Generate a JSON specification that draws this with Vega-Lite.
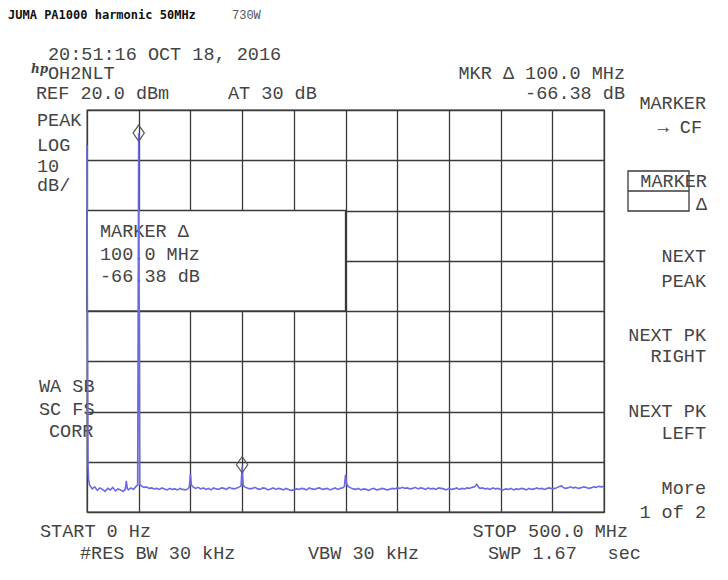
{
"$schema": "https://vega.github.io/schema/vega-lite/v6.json",
"width": 517,
"height": 402,
"autosize": {"type": "none"},
"padding": {"left": 87, "top": 110, "right": 124, "bottom": 68},
"background": "white",
"config": {"view": {"stroke": "#3a3a3a", "strokeWidth": 1.3}},
"datasets": {
"trace": [
{"f":0,"lvl":13.0},{"f":0.5,"lvl":-30},{"f":1,"lvl":-50.5},{"f":1.5,"lvl":-53.5},{"f":2.5,"lvl":-54.6},{"f":5,"lvl":-55.4},{"f":7.5,"lvl":-55.0},{"f":10,"lvl":-55.7},{"f":12.5,"lvl":-55.2},{"f":15,"lvl":-55.5},{"f":17.5,"lvl":-55.9},{"f":20,"lvl":-55.3},{"f":22.5,"lvl":-55.6},{"f":25,"lvl":-55.1},{"f":27.5,"lvl":-55.8},{"f":30,"lvl":-55.4},{"f":32.5,"lvl":-55.6},{"f":35,"lvl":-55.9},{"f":37,"lvl":-55.5},{"f":38,"lvl":-53.8},{"f":39,"lvl":-55.3},{"f":40,"lvl":-55.6},{"f":42.5,"lvl":-55.2},{"f":45,"lvl":-55.5},{"f":47.5,"lvl":-54.9},{"f":49,"lvl":-54.6},{"f":50,"lvl":15.4},{"f":51,"lvl":-54.4},{"f":52.5,"lvl":-54.8},{"f":55,"lvl":-55.1},{"f":57.5,"lvl":-55.0},{"f":60,"lvl":-55.3},{"f":62.5,"lvl":-55.2},{"f":65,"lvl":-55.4},{"f":67.5,"lvl":-55.3},{"f":70,"lvl":-55.5},{"f":72.5,"lvl":-55.2},{"f":75,"lvl":-55.4},{"f":77.5,"lvl":-55.6},{"f":80,"lvl":-55.3},{"f":82.5,"lvl":-55.5},{"f":85,"lvl":-55.4},{"f":87.5,"lvl":-55.6},{"f":90,"lvl":-55.3},{"f":92.5,"lvl":-55.5},{"f":95,"lvl":-55.6},{"f":97.5,"lvl":-55.4},{"f":99,"lvl":-55.0},{"f":100,"lvl":-52.5},{"f":101,"lvl":-54.6},{"f":102.5,"lvl":-55.0},{"f":105,"lvl":-55.3},{"f":107.5,"lvl":-55.1},{"f":110,"lvl":-55.4},{"f":112.5,"lvl":-55.2},{"f":115,"lvl":-55.5},{"f":117.5,"lvl":-55.3},{"f":120,"lvl":-55.6},{"f":122.5,"lvl":-55.2},{"f":125,"lvl":-55.4},{"f":127.5,"lvl":-55.5},{"f":130,"lvl":-55.2},{"f":132.5,"lvl":-55.3},{"f":135,"lvl":-55.5},{"f":137.5,"lvl":-55.1},{"f":140,"lvl":-55.3},{"f":142.5,"lvl":-55.4},{"f":145,"lvl":-55.2},{"f":147.5,"lvl":-55.0},{"f":149,"lvl":-54.8},{"f":150,"lvl":-51.0},{"f":151,"lvl":-54.7},{"f":152.5,"lvl":-55.0},
{"f":155,"lvl":-55.2},{"f":157.5,"lvl":-55.4},{"f":160,"lvl":-55.3},{"f":162.5,"lvl":-55.1},{"f":165,"lvl":-55.4},{"f":167.5,"lvl":-55.5},{"f":170,"lvl":-55.2},{"f":172.5,"lvl":-55.3},{"f":175,"lvl":-55.6},{"f":177.5,"lvl":-55.4},{"f":180,"lvl":-55.2},{"f":182.5,"lvl":-55.5},{"f":185,"lvl":-55.3},{"f":187.5,"lvl":-55.4},{"f":190,"lvl":-55.6},{"f":192.5,"lvl":-55.3},{"f":195,"lvl":-55.5},{"f":197.5,"lvl":-55.7},{"f":200,"lvl":-55.6},{"f":202.5,"lvl":-55.4},{"f":205,"lvl":-55.5},{"f":207.5,"lvl":-55.3},{"f":210,"lvl":-55.4},{"f":212.5,"lvl":-55.6},{"f":215,"lvl":-55.2},{"f":217.5,"lvl":-55.4},{"f":220,"lvl":-55.5},{"f":222.5,"lvl":-55.3},{"f":225,"lvl":-55.2},{"f":227.5,"lvl":-55.5},{"f":230,"lvl":-55.4},{"f":232.5,"lvl":-55.3},{"f":235,"lvl":-55.6},{"f":237.5,"lvl":-55.4},{"f":240,"lvl":-55.2},{"f":242.5,"lvl":-55.5},{"f":245,"lvl":-55.3},{"f":247.5,"lvl":-55.2},{"f":249,"lvl":-54.9},{"f":250,"lvl":-52.6},{"f":251,"lvl":-54.3},{"f":252.5,"lvl":-54.9},
{"f":255,"lvl":-55.2},{"f":257.5,"lvl":-55.4},{"f":260,"lvl":-55.5},{"f":262.5,"lvl":-55.3},{"f":265,"lvl":-55.6},{"f":267.5,"lvl":-55.4},{"f":270,"lvl":-55.5},{"f":272.5,"lvl":-55.7},{"f":275,"lvl":-55.4},{"f":277.5,"lvl":-55.3},{"f":280,"lvl":-55.6},{"f":282.5,"lvl":-55.5},{"f":285,"lvl":-55.3},{"f":287.5,"lvl":-55.4},{"f":290,"lvl":-55.6},{"f":292.5,"lvl":-55.5},{"f":295,"lvl":-55.3},{"f":297.5,"lvl":-55.4},{"f":300,"lvl":-55.2},{"f":302.5,"lvl":-55.3},{"f":305,"lvl":-55.1},{"f":307.5,"lvl":-55.3},{"f":310,"lvl":-55.2},{"f":312.5,"lvl":-55.4},{"f":315,"lvl":-55.3},{"f":317.5,"lvl":-55.1},{"f":320,"lvl":-55.4},{"f":322.5,"lvl":-55.2},{"f":325,"lvl":-55.3},{"f":327.5,"lvl":-55.5},{"f":330,"lvl":-55.2},{"f":332.5,"lvl":-55.4},{"f":335,"lvl":-55.3},{"f":337.5,"lvl":-55.5},{"f":340,"lvl":-55.2},{"f":342.5,"lvl":-55.3},{"f":345,"lvl":-55.4},{"f":347.5,"lvl":-55.6},{"f":350,"lvl":-55.3},{"f":352.5,"lvl":-55.5},{"f":355,"lvl":-55.4},{"f":357.5,"lvl":-55.2},{"f":360,"lvl":-55.5},{"f":362.5,"lvl":-55.3},{"f":365,"lvl":-55.4},{"f":367.5,"lvl":-55.2},{"f":370,"lvl":-55.3},{"f":372.5,"lvl":-55.1},{"f":375,"lvl":-55.0},{"f":377,"lvl":-54.5},{"f":379,"lvl":-55.1},{"f":380,"lvl":-55.3},{"f":382.5,"lvl":-55.2},{"f":385,"lvl":-55.4},{"f":387.5,"lvl":-55.3},{"f":390,"lvl":-55.5},{"f":392.5,"lvl":-55.2},{"f":395,"lvl":-55.4},{"f":397.5,"lvl":-55.3},{"f":400,"lvl":-55.5},{"f":402.5,"lvl":-55.6},{"f":405,"lvl":-55.4},{"f":407.5,"lvl":-55.5},{"f":410,"lvl":-55.3},{"f":412.5,"lvl":-55.6},{"f":415,"lvl":-55.4},{"f":417.5,"lvl":-55.5},{"f":420,"lvl":-55.3},{"f":422.5,"lvl":-55.4},{"f":425,"lvl":-55.6},{"f":427.5,"lvl":-55.3},{"f":430,"lvl":-55.5},{"f":432.5,"lvl":-55.4},{"f":435,"lvl":-55.2},{"f":437.5,"lvl":-55.4},{"f":440,"lvl":-55.3},{"f":442.5,"lvl":-55.5},{"f":445,"lvl":-55.3},{"f":447.5,"lvl":-55.2},{"f":450,"lvl":-55.4},{"f":452.5,"lvl":-55.3},{"f":455,"lvl":-55.1},{"f":457.5,"lvl":-54.9},{"f":459,"lvl":-54.8},{"f":460.5,"lvl":-55.1},{"f":462.5,"lvl":-55.3},{"f":465,"lvl":-55.2},{"f":467.5,"lvl":-55.0},{"f":470,"lvl":-55.2},{"f":472.5,"lvl":-55.1},{"f":475,"lvl":-55.3},{"f":477.5,"lvl":-55.2},{"f":480,"lvl":-55.0},{"f":482.5,"lvl":-55.1},{"f":485,"lvl":-55.3},{"f":487.5,"lvl":-55.2},{"f":490,"lvl":-55.0},{"f":492.5,"lvl":-55.1},{"f":495,"lvl":-54.9},{"f":497.5,"lvl":-55.0},{"f":500,"lvl":-54.9}
],
"markers": [{"f":50,"lvl":15.4},{"f":150,"lvl":-50.6}],
"plotBox": [{"f":0,"f2":250,"lvl":0,"lvl2":-20}],
"keyBox": [{"f":523.2,"f2":582.2,"lvl":7.861,"lvl2":-0.1}],
"keyDivider": [{"f":523.2,"f2":582.2,"lvl":3.88}],
"titleBold": [{"t":"JUMA PA1000 harmonic 50MHz","f":-76.40,"lvl":38.11}],
"titleThin": [{"t":"730W","f":140.23,"lvl":38.11}],
"logo": [{"t":"hp","f":-54.2,"lvl":27.36}],
"textLeft": [
{"t":"20:51:16 OCT 18, 2016","f":-37.72,"lvl":29.95},
{"t":"OH2NLT","f":-37.72,"lvl":26.17},
{"t":"REF 20.0 dBm","f":-49.32,"lvl":22.19},
{"t":"AT 30 dB","f":136.36,"lvl":22.19},
{"t":"PEAK","f":-48.36,"lvl":16.72},
{"t":"LOG","f":-48.36,"lvl":11.94},
{"t":"10","f":-48.36,"lvl":7.66},
{"t":"dB/","f":-48.36,"lvl":3.88},
{"t":"WA SB","f":-46.42,"lvl":-36.12},
{"t":"SC FS","f":-46.42,"lvl":-40.70},
{"t":"CORR","f":-36.75,"lvl":-45.07},
{"t":"MARKER Δ","f":12.57,"lvl":-5.21},
{"t":"100.0 MHz","f":12.57,"lvl":-9.85},
{"t":"-66.38 dB","f":12.57,"lvl":-14.17},
{"t":"START 0 Hz","f":-45.45,"lvl":-64.98},
{"t":"#RES BW 30 kHz","f":-6.77,"lvl":-69.35},
{"t":"VBW 30 kHz","f":213.73,"lvl":-69.35},
{"t":"SWP 1.67","f":387.82,"lvl":-69.35},
{"t":"sec","f":503.5,"lvl":-69.35}
],
"textRight": [
{"t":"MKR Δ 100.0 MHz","f":520.31,"lvl":26.17},
{"t":"-66.38 dB","f":520.31,"lvl":22.19},
{"t":"STOP 500.0 MHz","f":523.21,"lvl":-64.98},
{"t":"MARKER","f":598.65,"lvl":20.2},
{"t":"→ CF","f":594.78,"lvl":15.42},
{"t":"MARKER","f":599.6,"lvl":4.677},
{"t":"Δ","f":599.6,"lvl":0.1},
{"t":"NEXT","f":598.65,"lvl":-10.25},
{"t":"PEAK","f":598.65,"lvl":-15.22},
{"t":"NEXT PK","f":598.65,"lvl":-25.97},
{"t":"RIGHT","f":598.65,"lvl":-30.15},
{"t":"NEXT PK","f":598.65,"lvl":-41.09},
{"t":"LEFT","f":598.65,"lvl":-45.47},
{"t":"More","f":598.65,"lvl":-56.42},
{"t":"1 of 2","f":598.65,"lvl":-61.19}
]
},
"encoding": {
"x": {"field": "f", "type": "quantitative", "scale": {"domain": [0, 500], "nice": false, "zero": false},
 "axis": {"values": [0,50,100,150,200,250,300,350,400,450,500], "labels": false, "ticks": false, "domain": false, "title": null, "grid": true, "gridColor": "#3a3a3a", "gridWidth": 1.3, "gridOpacity": 1}},
"y": {"field": "lvl", "type": "quantitative", "scale": {"domain": [-60, 20], "nice": false, "zero": false},
 "axis": {"values": [-60,-50,-40,-30,-20,-10,0,10,20], "labels": false, "ticks": false, "domain": false, "title": null, "grid": true, "gridColor": "#3a3a3a", "gridWidth": 1.3, "gridOpacity": 1}}
},
"layer": [
{"data": {"name": "plotBox"}, "mark": {"type": "rect", "fill": "white", "stroke": "#3a3a3a", "strokeWidth": 1.3},
 "encoding": {"x2": {"field": "f2"}, "y2": {"field": "lvl2"}}},
{"data": {"name": "keyBox"}, "mark": {"type": "rect", "fill": null, "fillOpacity": 0, "stroke": "#3a3a3a", "strokeWidth": 1.3, "clip": false},
 "encoding": {"x2": {"field": "f2"}, "y2": {"field": "lvl2"}}},
{"data": {"name": "keyDivider"}, "mark": {"type": "rule", "stroke": "#3a3a3a", "strokeWidth": 1.3, "clip": false},
 "encoding": {"x2": {"field": "f2"}}},
{"data": {"name": "titleBold"}, "mark": {"type": "text", "align": "left", "baseline": "alphabetic", "font": "DejaVu Sans Mono", "fontWeight": "bold", "fontSize": 12, "fill": "#111"},
 "encoding": {"text": {"field": "t"}}},
{"data": {"name": "titleThin"}, "mark": {"type": "text", "align": "left", "baseline": "alphabetic", "font": "Liberation Mono", "fontSize": 12, "fill": "#555"},
 "encoding": {"text": {"field": "t"}}},
{"data": {"name": "logo"}, "mark": {"type": "text", "align": "left", "baseline": "alphabetic", "font": "DejaVu Serif", "fontStyle": "italic", "fontWeight": "bold", "fontSize": 12, "fill": "#444"},
 "encoding": {"text": {"field": "t"}}},
{"data": {"name": "textLeft"}, "mark": {"type": "text", "align": "left", "baseline": "alphabetic", "font": "Liberation Mono", "fontSize": 18.5, "fill": "#444"},
 "encoding": {"text": {"field": "t"}}},
{"data": {"name": "textRight"}, "mark": {"type": "text", "align": "right", "baseline": "alphabetic", "font": "Liberation Mono", "fontSize": 18.5, "fill": "#444"},
 "encoding": {"text": {"field": "t"}}},
{"data": {"name": "trace"}, "mark": {"type": "line", "color": "#6a6ae6", "strokeWidth": 1.6, "interpolate": "linear"}},
{"data": {"name": "markers"}, "mark": {"type": "point", "shape": "M0,-1L0.7,0L0,1L-0.7,0Z", "filled": false, "stroke": "#555", "strokeWidth": 1.2, "size": 260, "opacity": 1}}
]
}
